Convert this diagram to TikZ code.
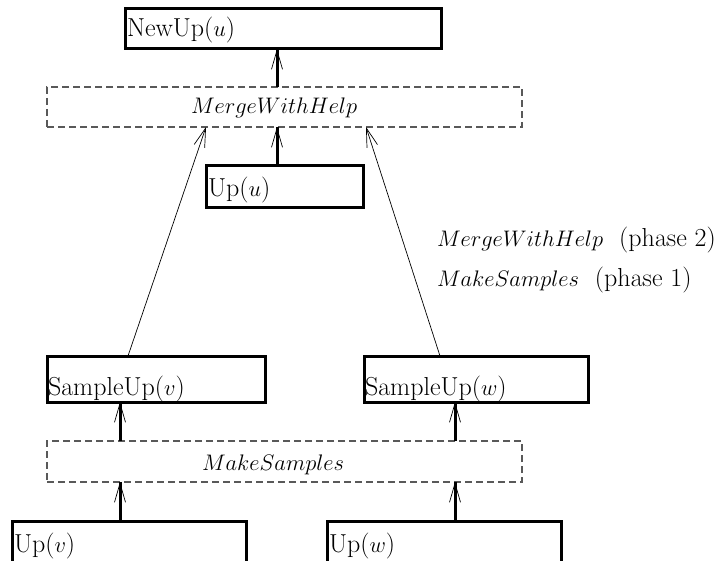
\documentclass[tikz,border=0pt]{standalone}
\usetikzlibrary{arrows.meta}
\DeclareFontShape{OML}{cmm}{m}{it}{<-> s*[0.865] cmmi12}{}
\begin{document}
\begin{tikzpicture}[x=1pt,y=-1pt,
  every node/.style={font=\fontsize{26}{30}\selectfont, inner sep=0pt, outer sep=0pt},
  box/.style={draw, line width=3pt, anchor=north west},
  dbox/.style={draw=black!65, line width=1.1pt, dash pattern=on 7pt off 4pt, anchor=north west},
  lbl/.style={anchor=base west},
  shaft/.style={line width=3pt},
  head/.style={line width=0.7pt, -{Straight Barb[length=19pt,width=11pt]}},
  thinarr/.style={line width=0.7pt, -{Straight Barb[length=19pt,width=11pt]}}]
\clip (0,0) rectangle (717,561);
\useasboundingbox (0,0) rectangle (717,561);
% boxes
\node[box, minimum width=316pt, minimum height=40pt] (newup) at (125,9) {};
\node[lbl] (newupt) at (127,37) {NewUp($u$)};
\node[dbox, minimum width=475pt, minimum height=40pt] (merge) at (47,87) {};
\node[lbl] (merget) at (191,114) {$MergeWithHelp$};
\node[box, minimum width=157pt, minimum height=42pt] (upu) at (206,166) {};
\node[lbl] (uput) at (208,197) {Up($u$)};
\node[box, minimum width=218pt, minimum height=46pt] (sv) at (47,356) {};
\node[lbl] (svt) at (48,395) {SampleUp($v$)};
\node[box, minimum width=224pt, minimum height=46pt] (sw) at (364,356) {};
\node[lbl] (swt) at (365,395) {SampleUp($w$)};
\node[dbox, minimum width=475pt, minimum height=41pt] (make) at (47,441) {};
\node[lbl] (maket) at (202,470) {$MakeSamples$};
\node[box, minimum width=234pt, minimum height=60pt] (upv) at (12,521) {};
\node[lbl] (upvt) at (14,552) {Up($v$)};
\node[box, minimum width=234pt, minimum height=60pt] (upw) at (327,521) {};
\node[lbl] (upwt) at (329,552) {Up($w$)};
% legend
\node[lbl] (leg2) at (437,247) {$MergeWithHelp$\hspace{16pt}(phase 2)};
\node[lbl] (leg1) at (437,286) {$MakeSamples$\hspace{16pt}(phase 1)};
% x positions of connectors
\coordinate (xa) at (277,0);
\coordinate (xl) at (120,0);
\coordinate (xr) at (455,0);
\coordinate (xsv) at (128,0);
\coordinate (xsw) at (440,0);
\coordinate (xml) at (206,0);
\coordinate (xmr) at (366,0);
% thick arrows
\foreach \a/\b/\x in {merge.north/newup.south/xa, upu.north/merge.south/xa,
                      make.north/sv.south/xl, make.north/sw.south/xr,
                      upv.north/make.south/xl, upw.north/make.south/xr}{
  \draw[shaft] (\a -| \x) -- (\b -| \x);
  \draw[head] (\a -| \x) -- (\b -| \x);
}
% thin arrows
\draw[thinarr] (sv.north -| xsv) -- (merge.south -| xml);
\draw[thinarr] (sw.north -| xsw) -- (merge.south -| xmr);
\end{tikzpicture}
\end{document}
